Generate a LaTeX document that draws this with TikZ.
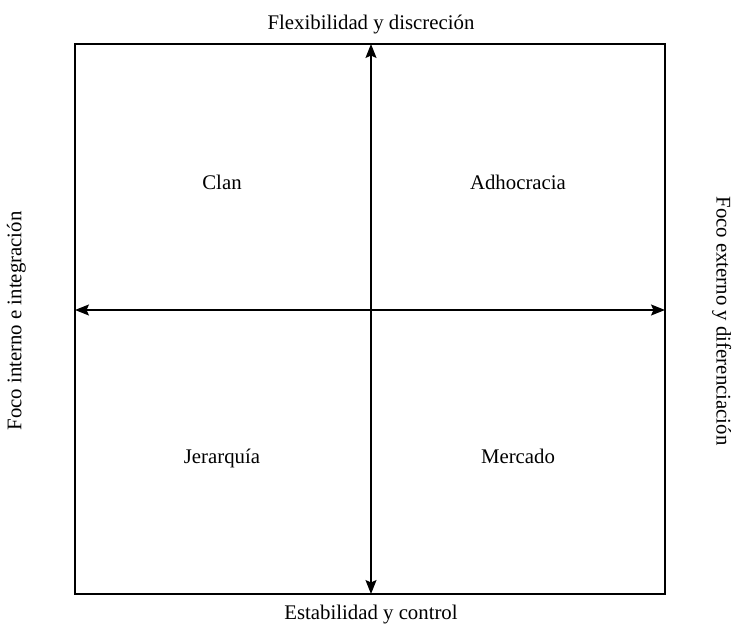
\documentclass[tikz,border=0pt]{standalone}
\usepackage{fontspec}
\setmainfont{Liberation Serif}
\usetikzlibrary{arrows.meta}
\begin{document}
\begin{tikzpicture}[x=1pt,y=1pt,
  frame/.style={draw=black,line width=1.2pt},
  axis/.style={line width=1.2pt,{Stealth[length=14pt,width=11pt,inset=2.5pt]}-{Stealth[length=14pt,width=11pt,inset=2.5pt]}},
  lbl/.style={font=\fontsize{20.8}{24}\selectfont,inner sep=0pt,text height=0.7em,text depth=0.22em}]
\useasboundingbox (0,0) rectangle (734,627);
% outer frame
\node[frame,minimum width=590pt,minimum height=550pt,inner sep=0pt] (box) at (370,308) {};
% axis end points on the frame
\coordinate (top) at (371,583);
\coordinate (bot) at (371,33);
\coordinate (lft) at (75,317);
\coordinate (rgt) at (665,317);
\draw[axis] (bot) -- (top);
\draw[axis] (lft) -- (rgt);
% axis captions
\node[lbl] (north) at (371,600) {Flexibilidad y discreción};
\node[lbl] (south) at (371,10) {Estabilidad y control};
\node[lbl,rotate=90] (west) at (19,306) {Foco interno e integración};
\node[lbl,rotate=-90] (east) at (719,306) {Foco externo y diferenciación};
% quadrants
\node[lbl] (clan) at (222,440) {Clan};
\node[lbl] (adho) at (518,440) {Adhocracia};
\node[lbl] (jera) at (222,166) {Jerarquía};
\node[lbl] (merc) at (518,166) {Mercado};
\end{tikzpicture}
\end{document}
